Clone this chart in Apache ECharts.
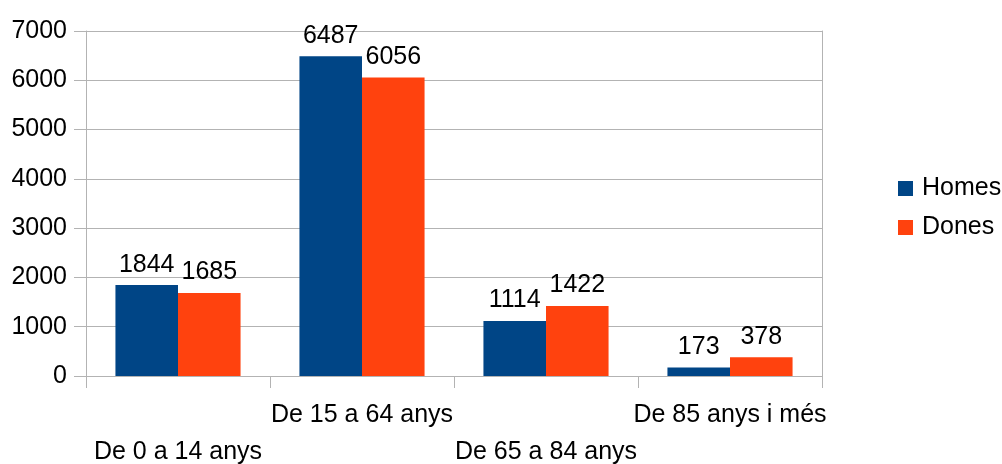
<!DOCTYPE html>
<html>
<head>
<meta charset="utf-8">
<script src="https://cdn.jsdelivr.net/npm/echarts@6/dist/echarts.min.js"></script>
<style>
  html, body { margin: 0; padding: 0; background: #fff; }
  #chart { width: 1002px; height: 464px; }
</style>
</head>
<body>
<div id="chart"></div>
<script>
var categories = ["De 0 a 14 anys", "De 15 a 64 anys", "De 65 a 84 anys", "De 85 anys i més"];
var homes = [1844, 6487, 1114, 173];
var dones = [1685, 6056, 1422, 378];
var yTicks = [0, 1000, 2000, 3000, 4000, 5000, 6000, 7000];

var FONT = "'Liberation Sans', Arial, sans-serif";
var FS = 25;
var GRID = "#b3b3b3";

var chart = echarts.init(document.getElementById("chart"));
var option = {
    animation: false,
    textStyle: { fontFamily: FONT },
    grid: {
        left: 86,
        right: 180,
        top: 31,
        bottom: 88,
        containLabel: false,
        outerBoundsMode: "none"
    },
    legend: {
        orient: "vertical",
        left: 893,
        top: 171,
        itemGap: 14,
        itemWidth: 15,
        itemHeight: 15,
        icon: "rect",
        textStyle: { fontFamily: FONT, fontSize: FS, color: "#000", padding: [0, 0, 0, 4] },
        data: ["Homes", "Dones"]
    },
    xAxis: {
        type: "category",
        data: categories,
        axisLine: { lineStyle: { color: GRID, width: 1 } },
        axisTick: { show: true, length: 12, lineStyle: { color: GRID } },
        axisLabel: {
            interval: 0,
            margin: 21,
            fontSize: FS,
            lineHeight: 37,
            color: "#000",
            fontFamily: FONT,
            formatter: function (v, i) {
                return i % 2 === 0 ? "\n" + v : v;
            }
        }
    },
    yAxis: [
        {
            type: "value",
            min: yTicks[0],
            max: yTicks[yTicks.length - 1],
            interval: 1000,
            axisLine: { show: true, lineStyle: { color: GRID, width: 1 } },
            axisTick: { show: true, length: 12, lineStyle: { color: GRID } },
            splitLine: { lineStyle: { color: GRID, width: 1 } },
            axisLabel: {
                margin: 19, fontSize: FS, color: "#000", fontFamily: FONT,
                formatter: function (v) { return String(v); }
            }
        },
        {
            type: "value",
            position: "right",
            min: yTicks[0],
            max: yTicks[yTicks.length - 1],
            interval: 1000,
            axisLine: { show: true, lineStyle: { color: GRID, width: 1 } },
            axisTick: { show: false },
            axisLabel: { show: false },
            splitLine: { show: false }
        }
    ],
    series: [
        {
            name: "Homes",
            type: "bar",
            data: homes,
            barGap: "0%",
            barCategoryGap: "32%",
            itemStyle: { color: "#004586" },
            label: { show: true, position: "top", distance: 8, fontSize: FS, color: "#000", fontFamily: FONT }
        },
        {
            name: "Dones",
            type: "bar",
            data: dones,
            barGap: "0%",
            barCategoryGap: "32%",
            itemStyle: { color: "#ff420e" },
            label: { show: true, position: "top", distance: 8, fontSize: FS, color: "#000", fontFamily: FONT }
        }
    ]
};
chart.setOption(option);
</script>
</body>
</html>
